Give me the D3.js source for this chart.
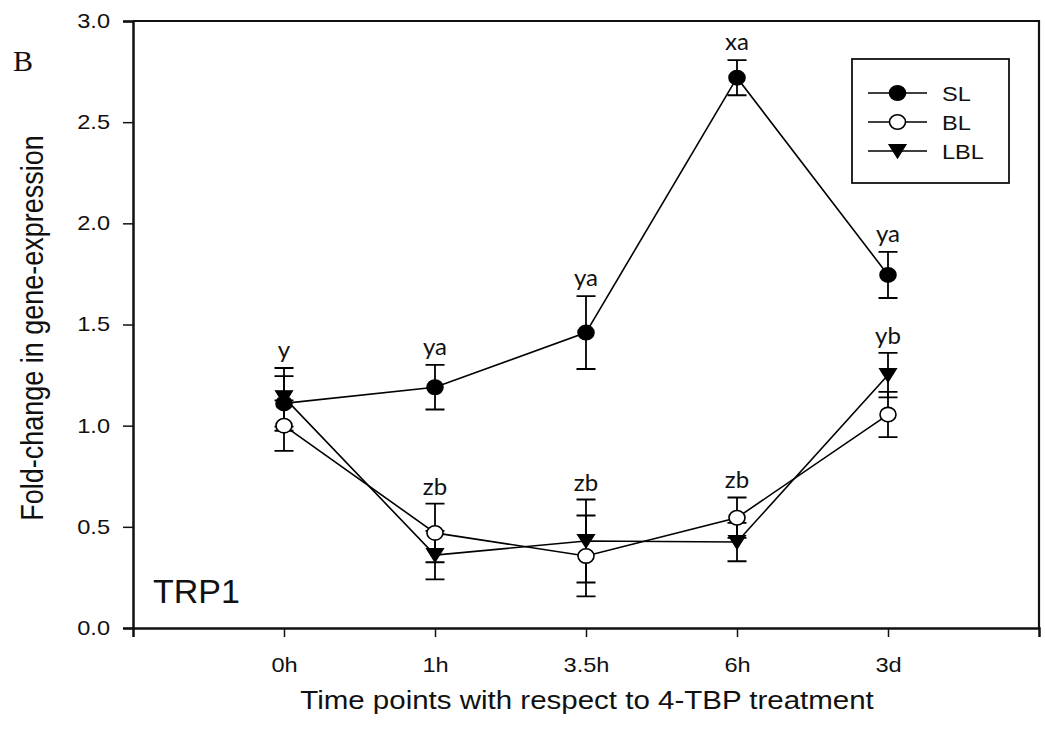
<!DOCTYPE html>
<html>
<head>
<meta charset="utf-8">
<script src="https://cdn.jsdelivr.net/npm/d3@7/dist/d3.min.js"></script>
<style>
  html, body { margin: 0; padding: 0; background: #fff; }
  svg { display: block; }
  text { fill: #111; }
</style>
</head>
<body>
<svg id="chart" width="1045" height="741"></svg>
<script>
// Time points after 4-TBP treatment
const times = ["0h", "1h", "3.5h", "6h", "3d"];

// Mean fold-change and error (±) per group
const slMean  = [1.11, 1.19, 1.46, 2.72, 1.745];
const slErr   = [0.135, 0.11, 0.18, 0.087, 0.114];
const blMean  = [1.00, 0.47, 0.356, 0.545, 1.055];
const blErr   = [0.125, 0.145, 0.20, 0.10, 0.112];
const lblMean = [1.14, 0.36, 0.43, 0.425, 1.25];
const lblErr  = [0.145, 0.12, 0.205, 0.095, 0.11];

// Significance letters
const upperLetters = ["y", "ya", "ya", "xa", "ya"];
const lowerLetters = ["", "zb", "zb", "zb", "yb"];

const yTicks = [0, 0.5, 1.0, 1.5, 2.0, 2.5, 3.0];

const series = [
  { name: "SL",  mean: slMean,  err: slErr,  symbol: "circle",   fill: "#000" },
  { name: "BL",  mean: blMean,  err: blErr,  symbol: "circle",   fill: "#fff" },
  { name: "LBL", mean: lblMean, err: lblErr, symbol: "triangle", fill: "#000" }
];

const SX = 1.18;           // horizontal stretch of axis lettering
const plot = { left: 133, right: 1039, top: 21, bottom: 628 };

const svg = d3.select("#chart");

const x = d3.scalePoint().domain(times).range([plot.left, plot.right]).padding(1);
const y = d3.scaleLinear().domain([0, 3]).range([plot.bottom, plot.top]);

// Frame (top and right edges)
svg.append("path")
  .attr("d", `M${plot.left},${plot.top}H${plot.right}V${plot.bottom}`)
  .attr("fill", "none").attr("stroke", "#111").attr("stroke-width", 2.2);

// Axes
const yAxis = svg.append("g")
  .attr("transform", `translate(${plot.left},0)`)
  .call(d3.axisLeft(y).tickValues(yTicks).tickFormat(d3.format(".1f")).tickSize(10).tickPadding(13));
const xAxis = svg.append("g")
  .attr("transform", `translate(0,${plot.bottom})`)
  .call(d3.axisBottom(x).tickSize(9).tickPadding(21));

[yAxis, xAxis].forEach(g => {
  g.select(".domain").attr("stroke", "#111").attr("stroke-width", 2.5);
  g.selectAll(".tick line").attr("stroke", "#111").attr("stroke-width", 1.5);
  g.selectAll(".tick text")
    .attr("font-family", "'Liberation Sans', Arial, sans-serif")
    .attr("font-size", 20)
    .attr("fill", "#111");
});
yAxis.selectAll(".tick text").each(function () {
  const x0 = +d3.select(this).attr("x");
  d3.select(this).attr("transform", `translate(${x0},0) scale(${SX},1) translate(${-x0},0)`);
});
xAxis.selectAll(".tick text").attr("transform", `scale(${SX},1)`);

// Axis titles
svg.append("text")
  .attr("transform", `translate(587,709) scale(${SX},1)`)
  .attr("text-anchor", "middle")
  .attr("font-family", "'Liberation Sans', Arial, sans-serif")
  .attr("font-size", 25)
  .text("Time points with respect to 4-TBP treatment");

svg.append("text")
  .attr("transform", `translate(43,328) scale(${SX},1) rotate(-90)`)
  .attr("text-anchor", "middle")
  .attr("font-family", "'Liberation Sans', Arial, sans-serif")
  .attr("font-size", 27)
  .text("Fold-change in gene-expression");

// Panel letter and gene name
svg.append("text")
  .attr("x", 13).attr("y", 71)
  .attr("font-family", "'Liberation Serif', 'Times New Roman', serif")
  .attr("font-size", 30)
  .text("B");

svg.append("text")
  .attr("x", 153).attr("y", 603)
  .attr("font-family", "'Liberation Sans', Arial, sans-serif")
  .attr("font-size", 34)
  .text("TRP1");

// Marker shapes
function drawMarker(sel, symbol, fill) {
  if (symbol === "circle") {
    sel.append("ellipse").attr("rx", 8).attr("ry", 7.2)
      .attr("fill", fill).attr("stroke", "#000").attr("stroke-width", 1.6);
  } else {
    sel.append("path").attr("d", "M-8.5,-6.5L8.5,-6.5L0,7Z")
      .attr("fill", fill).attr("stroke", "#000").attr("stroke-width", 1.2);
  }
}

// Error bars
const capHalf = 9.5;
const errLayer = svg.append("g").attr("stroke", "#000").attr("stroke-width", 1.8).attr("fill", "none");
series.forEach(s => {
  times.forEach((t, i) => {
    const cx = x(t);
    const y1 = y(s.mean[i] + s.err[i]);
    const y2 = y(s.mean[i] - s.err[i]);
    errLayer.append("path")
      .attr("d", `M${cx},${y1}V${y2}M${cx - capHalf},${y1}H${cx + capHalf}M${cx - capHalf},${y2}H${cx + capHalf}`);
  });
});

// Connecting lines
const line = d3.line().x((d, i) => x(times[i])).y(d => y(d));
series.forEach(s => {
  svg.append("path")
    .attr("d", line(s.mean))
    .attr("fill", "none").attr("stroke", "#000").attr("stroke-width", 1.6);
});

// Symbols
series.forEach(s => {
  times.forEach((t, i) => {
    const g = svg.append("g").attr("transform", `translate(${x(t)},${y(s.mean[i])})`);
    drawMarker(g, s.symbol, s.fill);
  });
});

// Significance letters above error bars
const letterFont = "Lato, 'Open Sans', sans-serif";
times.forEach((t, i) => {
  const topAll = d3.max(series, s => s.mean[i] + s.err[i]);
  const topLow = d3.max(series.slice(1), s => s.mean[i] + s.err[i]);
  svg.append("text")
    .attr("x", x(t)).attr("y", y(topAll) - 10)
    .attr("text-anchor", "middle")
    .attr("font-family", letterFont).attr("font-size", 24)
    .text(upperLetters[i]);
  if (lowerLetters[i]) {
    svg.append("text")
      .attr("x", x(t)).attr("y", y(topLow) - 9)
      .attr("text-anchor", "middle")
      .attr("font-family", letterFont).attr("font-size", 24)
      .text(lowerLetters[i]);
  }
});

// Legend
const legend = svg.append("g");
legend.append("rect")
  .attr("x", 852).attr("y", 59).attr("width", 157).attr("height", 124)
  .attr("fill", "#fff").attr("stroke", "#111").attr("stroke-width", 1.8);
const rowY = d3.scalePoint().domain(series.map(s => s.name)).range([93, 151]);
series.forEach(s => {
  const ry = rowY(s.name);
  legend.append("line")
    .attr("x1", 868).attr("x2", 927).attr("y1", ry).attr("y2", ry)
    .attr("stroke", "#000").attr("stroke-width", 1.6);
  drawMarker(legend.append("g").attr("transform", `translate(897.5,${ry})`), s.symbol, s.fill);
  legend.append("text")
    .attr("transform", `translate(942,${ry + 7.5}) scale(${SX},1)`)
    .attr("font-family", "'Liberation Sans', Arial, sans-serif")
    .attr("font-size", 20)
    .text(s.name);
});
</script>
</body>
</html>
